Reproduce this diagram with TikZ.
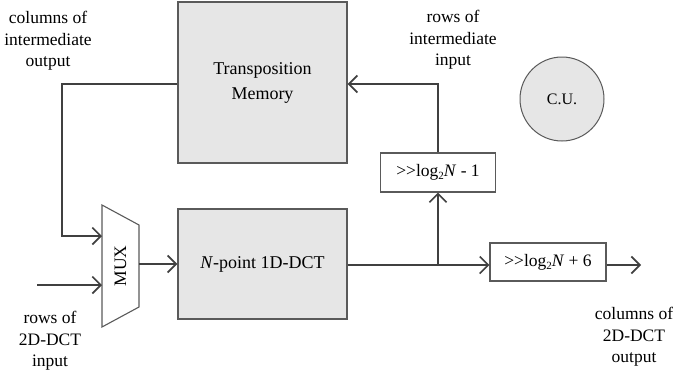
\documentclass[tikz,border=0pt]{standalone}
\usepackage{fontspec}
\setmainfont{Liberation Serif}
\usetikzlibrary{arrows.meta}
\definecolor{boxfill}{HTML}{E6E6E6}
\definecolor{linec}{HTML}{404040}
\definecolor{edgec}{HTML}{5A5A5A}
\newcommand\lsub[1]{\raisebox{-0.4ex}{\fontsize{11}{11}\selectfont #1}}
\tikzset{
  lbl/.style={font=\fontsize{17.5}{21.5}\selectfont, align=center, inner sep=0pt},
  grayblock/.style={draw=edgec, line width=1.3pt, fill=boxfill, font=\fontsize{18}{25}\selectfont, align=center, inner sep=0pt},
  shiftbox/.style={draw=edgec, line width=1.1pt, fill=white, font=\fontsize{17.5}{21}\selectfont, inner sep=0pt},
  conn/.style={draw=linec, line width=1.7pt},
  arr/.style={conn, -{Straight Barb[length=8.5pt,width=17pt,line width=1.7pt]}}
}
\begin{document}
\begin{tikzpicture}[x=1pt,y=-1pt]
\useasboundingbox (0,0) rectangle (673,370);
% blocks
\node[grayblock, minimum width=169pt, minimum height=161pt] (mem) at (262.5,82.5) {Transposition\\Memory};
\node[grayblock, minimum width=169pt, minimum height=110pt] (dct) at (262.5,264) {\textit{N}-point 1D-DCT};
\node[shiftbox, minimum width=115pt, minimum height=39pt] (sh1) at (438,172.5) {>\kern0pt>log\lsub{2}\textit{N} - 1};
\node[shiftbox, minimum width=116pt, minimum height=38pt] (sh2) at (548,262) {>\kern0pt>log\lsub{2}\textit{N} + 6};
\node[draw=edgec, line width=1pt, fill=boxfill, circle, minimum size=84pt, inner sep=0pt, font=\fontsize{16}{18}\selectfont] (cu) at (562,99) {C.U.};
% MUX
\draw[draw=edgec, line width=1.1pt, fill=white] (102,205) -- (139,225) -- (139,307) -- (102,327) -- cycle;
\node[rotate=90, font=\fontsize{17.5}{20}\selectfont, inner sep=0pt] (muxlbl) at (120.5,266) {MUX};
\coordinate (muxin1) at (102,236);
\coordinate (muxin2) at (102,285);
\coordinate (muxout) at (139,264);
\coordinate (fbcorner) at (62,84);
\coordinate (inst) at (37,285);
\coordinate (jn) at (438,265);
\coordinate (outend) at (641,265);
\coordinate (topturn) at (438,84);
% connectors
\draw[arr] (mem.west |- fbcorner) -- (fbcorner) |- (muxin1);
\draw[arr] (inst) -- (muxin2);
\draw[arr] (muxout) -- (dct.west |- muxout);
\draw[arr] (dct.east |- jn) -- (sh2.west |- jn);
\draw[arr] (jn) -- (sh1.south);
\draw[arr] (sh1.north) -- (topturn) -- (mem.east |- topturn);
\draw[arr] (sh2.east |- outend) -- (outend);
% labels
\node[lbl] (t1) at (48,41) {columns of\\intermediate\\output};
\node[lbl] (t2) at (453,40) {rows of\\intermediate\\input};
\node[lbl] (t3) at (50,341) {rows of\\2D-DCT\\input};
\node[lbl] (t4) at (634,337) {columns of\\2D-DCT\\output};
\end{tikzpicture}
\end{document}
